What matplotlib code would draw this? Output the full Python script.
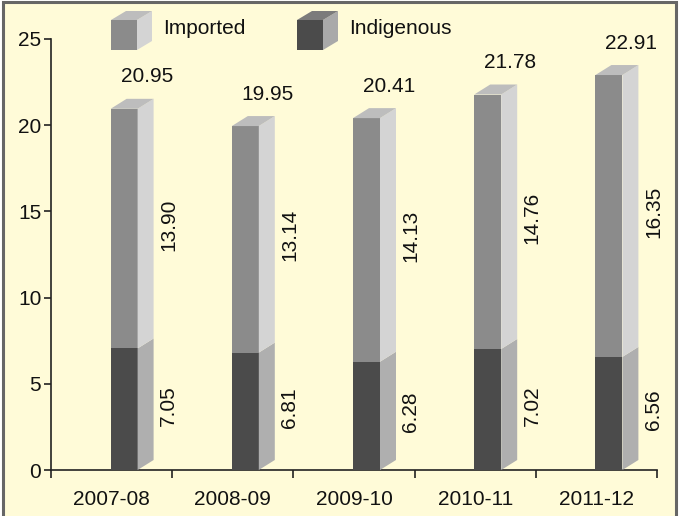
import matplotlib
matplotlib.use("Agg")
import matplotlib.pyplot as plt
from matplotlib.patches import Polygon, Rectangle

# data
years = ["2007-08", "2008-09", "2009-10", "2010-11", "2011-12"]
indigenous = [7.05, 6.81, 6.28, 7.02, 6.56]
imported = [13.90, 13.14, 14.13, 14.76, 16.35]
totals = [20.95, 19.95, 20.41, 21.78, 22.91]

plt.rcParams['font.family'] = ['Liberation Sans Narrow', 'Liberation Sans', 'DejaVu Sans']

BG = '#fffbd8'
IMP_FRONT, IMP_SIDE, IMP_TOP = '#8b8b8b', '#d4d4d4', '#bdbdbd'
IND_FRONT, IND_SIDE, IND_TOP = '#4b4b4b', '#afafaf', '#8b8b8b'
AXC = '#222222'

W, H = 680, 516
fig = plt.figure(figsize=(W / 100, H / 100), dpi=100, facecolor='white')

# background panel with frame
fig.patches.append(Rectangle((3 / W, -0.02), 673 / W, 1.02 - 1.5 / H, transform=fig.transFigure,
                             facecolor=BG, edgecolor='#666666', linewidth=2.2, zorder=-5))

x0, x1, y0, y1 = 51, 657, 470, 39
ax = fig.add_axes([x0 / W, 1 - y0 / H, (x1 - x0) / W, (y0 - y1) / H])
ax.set_facecolor('none')
ax.set_xlim(0, 5)
ax.set_ylim(0, 25)

# pixel -> data unit conversion
px_x = 5 / (x1 - x0)
px_y = 25 / (y0 - y1)
dx, dy = 16 * px_x, 10 * px_y
bw = 27 * px_x


def box3d(ax, x, bottom, height, front, side, top, draw_top):
    ax.add_patch(Rectangle((x, bottom), bw, height, facecolor=front, edgecolor='none', zorder=3))
    ax.add_patch(Polygon([(x + bw, bottom), (x + bw + dx, bottom + dy),
                          (x + bw + dx, bottom + height + dy), (x + bw, bottom + height)],
                         closed=True, facecolor=side, edgecolor='none', zorder=3))
    if draw_top:
        ax.add_patch(Polygon([(x, bottom + height), (x + bw, bottom + height),
                              (x + bw + dx, bottom + height + dy), (x + dx, bottom + height + dy)],
                             closed=True, facecolor=top, edgecolor='none', zorder=3, clip_on=False))


for i, (ind, imp, tot) in enumerate(zip(indigenous, imported, totals)):
    xl = i + 0.5 - 1 * px_x
    box3d(ax, xl, 0, ind, IND_FRONT, IND_SIDE, IND_TOP, False)
    box3d(ax, xl, ind, imp, IMP_FRONT, IMP_SIDE, IMP_TOP, True)
    tx = xl + bw + dx + 15 * px_x
    ax.text(tx, ind / 2 + 4 * px_y, f"{ind:.2f}", rotation=90, ha='center', va='center',
            fontsize=15, color='#111111')
    ax.text(tx, ind + imp / 2 + 4 * px_y, f"{imp:.2f}", rotation=90, ha='center', va='center',
            fontsize=15, color='#111111')
    ax.text(xl + 10 * px_x, tot + 32 * px_y, f"{tot:.2f}", ha='left', va='center',
            fontsize=15, color='#111111', clip_on=False)

# axes styling
for s in ['top', 'right']:
    ax.spines[s].set_visible(False)
for s in ['left', 'bottom']:
    ax.spines[s].set_color(AXC)
    ax.spines[s].set_linewidth(1.2)
ax.set_yticks([0, 5, 10, 15, 20, 25])
ax.tick_params(axis='y', direction='out', length=5, width=1.2, color=AXC,
               labelsize=15, pad=2, labelcolor='#111111')
ax.set_xticks(range(6))
ax.set_xticklabels([])
ax.tick_params(axis='x', direction='out', length=6, width=1.2, color=AXC)
for i, yr in enumerate(years):
    ax.text(i + 0.5, -20 * px_y, yr, ha='center', va='top', fontsize=15, color='#111111')

# legend drawn as 3D boxes in figure pixels
lax = fig.add_axes([0, 0, 1, 1])
lax.set_xlim(0, W)
lax.set_ylim(H, 0)
lax.axis('off')


def legend_box(x, front, side, top, label):
    fw, fh, ddx, ddy = 26, 30, 15, 9
    ytop = 20
    lax.add_patch(Rectangle((x, ytop), fw, fh, facecolor=front, edgecolor='none'))
    lax.add_patch(Polygon([(x + fw, ytop), (x + fw + ddx, ytop - ddy), (x + fw + ddx, ytop + fh - ddy),
                           (x + fw, ytop + fh)], closed=True, facecolor=side, edgecolor='none'))
    lax.add_patch(Polygon([(x, ytop), (x + fw, ytop), (x + fw + ddx, ytop - ddy), (x + ddx, ytop - ddy)],
                          closed=True, facecolor=top, edgecolor='none'))
    lax.text(x + 52, 29, label, ha='left', va='center', fontsize=15, color='#111111')


legend_box(111, IMP_FRONT, IMP_SIDE, IMP_TOP, "Imported")
legend_box(297, IND_FRONT, '#a9a9a9', '#7b7b7b', "Indigenous")

fig.savefig("out.png", dpi=100, facecolor=fig.get_facecolor())
